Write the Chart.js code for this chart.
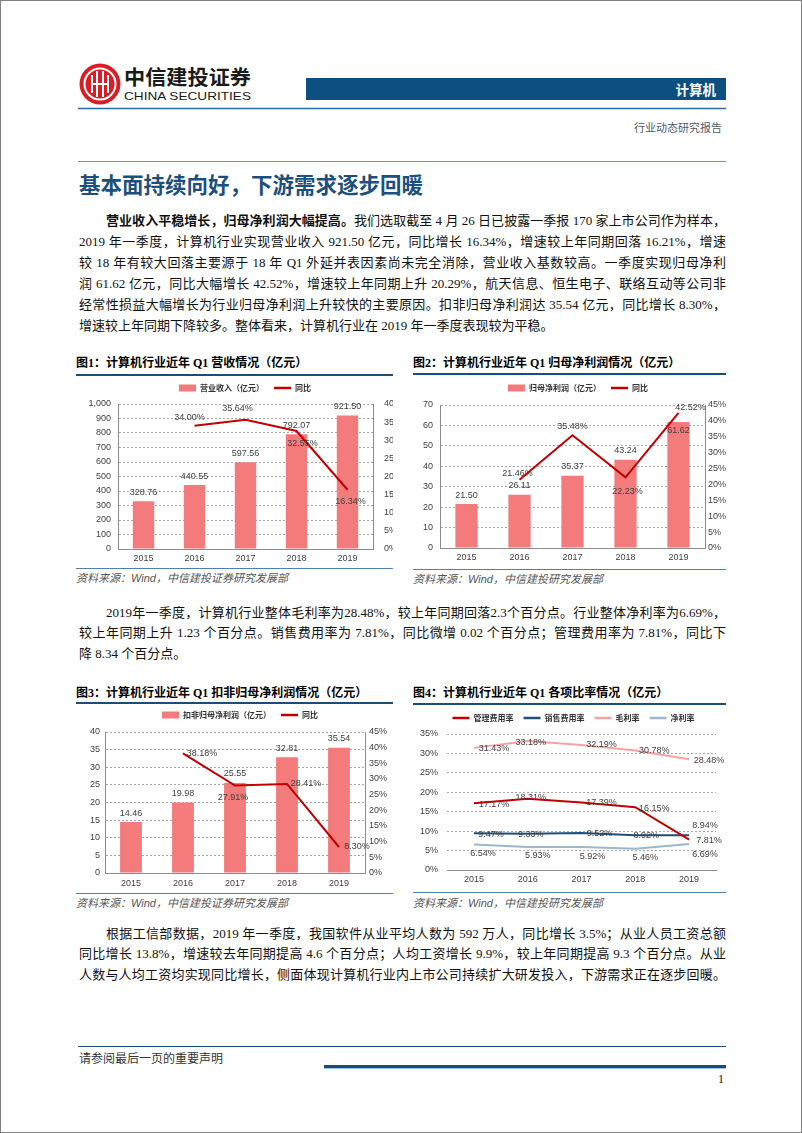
<!DOCTYPE html>
<html lang="zh-CN">
<head>
<meta charset="utf-8">
<title>计算机行业动态研究报告</title>
<script src="https://cdn.jsdelivr.net/npm/chart.js@4.4.1/dist/chart.umd.min.js"></script>
<style>
  html, body { margin: 0; padding: 0; background: #fff; overflow: hidden; }
  #page { position: relative; width: 802px; height: 1133px; box-sizing: border-box; border: 1px solid #808080;
          font-family: "Liberation Serif", "Noto Sans CJK SC", serif; color: #111; }
  .rule { position: absolute; height: 0; }
  .para { position: absolute; left: 78px; width: 647px; font-size: 13px; }
  .para div { text-align: justify; text-align-last: justify; }
  .para div.last { text-align-last: left; }
  .para .ind { padding-left: 27px; }
  .title { position: absolute; left: 78px; top: 171px; font: bold 21.5px/24px "Noto Sans CJK SC", sans-serif; color: #1c4f7c; }
  .figt { position: absolute; font: bold 12px/16px "Liberation Serif", "Noto Sans CJK SC", serif; color: #000; white-space: nowrap; }
  .src { position: absolute; font: italic 11px/14px "Liberation Sans", "Noto Sans CJK SC", sans-serif; color: #555; white-space: nowrap; }
  .clip { position: absolute; overflow: hidden; }
  .clip canvas { position: absolute; left: 0; top: 0; }
</style>
</head>
<body>
<div id="page">
  <svg width="802" height="170" style="position:absolute;left:0;top:0">
    <circle cx="99" cy="83" r="20.5" fill="#d81e25"/>
    <circle cx="99" cy="83" r="15.5" fill="none" stroke="#fff" stroke-width="2"/>
    <path d="M91 74 v18 M96 70 v26 M102 70 v26 M107 74 v18 M91 83 h16" stroke="#fff" stroke-width="2" fill="none"/>
    <text x="123" y="84" font-family="Noto Sans CJK SC" font-weight="bold" font-size="20" fill="#1a1a1a" textLength="127" lengthAdjust="spacingAndGlyphs">中信建投证券</text>
    <text x="123" y="98.5" font-family="Liberation Sans" font-size="11.5" fill="#1a1a1a" textLength="127" lengthAdjust="spacingAndGlyphs">CHINA SECURITIES</text>
    <rect x="305" y="77" width="420" height="22" fill="#0d4f81"/>
    <text x="715" y="93.5" text-anchor="end" font-family="Noto Sans CJK SC" font-weight="bold" font-size="13.5" fill="#fff">计算机</text>
    <line x1="77" y1="107.5" x2="725" y2="107.5" stroke="#2a6aa0" stroke-width="1.5"/>
    <text x="721" y="131" text-anchor="end" font-family="Noto Sans CJK SC" font-size="11" fill="#4d5b6a">行业动态研究报告</text>
    <line x1="77" y1="160.5" x2="725" y2="160.5" stroke="#6d93ba" stroke-width="1"/>
  </svg>

  <div class="title">基本面持续向好，下游需求逐步回暖</div>

  <div class="para" style="top:207.5px;line-height:21px">
    <div class="ind"><b style="font-family:'Noto Sans CJK SC'">营业收入平稳增长，归母净利润大幅提高。</b>我们选取截至 4 月 26 日已披露一季报 170 家上市公司作为样本，</div>
    <div>2019 年一季度，计算机行业实现营业收入 921.50 亿元，同比增长 16.34%，增速较上年同期回落 16.21%，增速</div>
    <div>较 18 年有较大回落主要源于 18 年 Q1 外延并表因素尚未完全消除，营业收入基数较高。一季度实现归母净利</div>
    <div>润 61.62 亿元，同比大幅增长 42.52%，增速较上年同期上升 20.29%，航天信息、恒生电子、联络互动等公司非</div>
    <div>经常性损益大幅增长为行业归母净利润上升较快的主要原因。扣非归母净利润达 35.54 亿元，同比增长 8.30%，</div>
    <div class="last">增速较上年同期下降较多。整体看来，计算机行业在 2019 年一季度表现较为平稳。</div>
  </div>

  <div class="figt" style="left:75px;top:354px">图1：计算机行业近年 Q1 营收情况（亿元）</div>
  <div class="rule" style="left:75px;top:373px;width:317px;border-top:2px solid #1b4d7a"></div>
  <div class="clip" style="left:75px;top:378px;width:317px;height:187px"><canvas id="c1" width="345" height="187"></canvas></div>
  <div class="rule" style="left:75px;top:567px;width:317px;border-top:1px solid #4f7fae"></div>
  <div class="src" style="left:75px;top:570px">资料来源：Wind，中信建投证券研究发展部</div>

  <div class="figt" style="left:412px;top:354px">图2：计算机行业近年 Q1 归母净利润情况（亿元）</div>
  <div class="rule" style="left:412px;top:372px;width:313px;border-top:2px solid #1b4d7a"></div>
  <div class="clip" style="left:412px;top:378px;width:313px;height:187px"><canvas id="c2" width="330" height="187"></canvas></div>
  <div class="rule" style="left:412px;top:568px;width:313px;border-top:1px solid #4f7fae"></div>
  <div class="src" style="left:412px;top:571px">资料来源：Wind，中信建投研究发展部</div>

  <div class="para" style="top:601.75px;line-height:20.5px">
    <div class="ind">2019年一季度，计算机行业整体毛利率为28.48%，较上年同期回落2.3个百分点。行业整体净利率为6.69%，</div>
    <div>较上年同期上升 1.23 个百分点。销售费用率为 7.81%，同比微增 0.02 个百分点；管理费用率为 7.81%，同比下</div>
    <div class="last">降 8.34 个百分点。</div>
  </div>

  <div class="figt" style="left:75px;top:684px">图3：计算机行业近年 Q1 扣非归母净利润情况（亿元）</div>
  <div class="rule" style="left:75px;top:701px;width:317px;border-top:2px solid #1b4d7a"></div>
  <div class="clip" style="left:75px;top:705px;width:317px;height:185px"><canvas id="c3" width="335" height="185"></canvas></div>
  <div class="rule" style="left:75px;top:892px;width:317px;border-top:1px solid #4f7fae"></div>
  <div class="src" style="left:75px;top:895px">资料来源：Wind，中信建投证券研究发展部</div>

  <div class="figt" style="left:412px;top:684px">图4：计算机行业近年 Q1 各项比率情况（亿元）</div>
  <div class="rule" style="left:412px;top:702px;width:313px;border-top:2px solid #1b4d7a"></div>
  <div class="clip" style="left:412px;top:705px;width:313px;height:185px"><canvas id="c4" width="313" height="185"></canvas></div>
  <div class="rule" style="left:412px;top:891px;width:313px;border-top:1px solid #4f7fae"></div>
  <div class="src" style="left:412px;top:895px">资料来源：Wind，中信建投研究发展部</div>

  <div class="para" style="top:922.75px;line-height:20.5px">
    <div class="ind">根据工信部数据，2019 年一季度，我国软件从业平均人数为 592 万人，同比增长 3.5%；从业人员工资总额</div>
    <div>同比增长 13.8%，增速较去年同期提高 4.6 个百分点；人均工资增长 9.9%，较上年同期提高 9.3 个百分点。从业</div>
    <div>人数与人均工资均实现同比增长，侧面体现计算机行业内上市公司持续扩大研发投入，下游需求正在逐步回暖。</div>
  </div>

  <div class="rule" style="left:77px;top:1045px;width:648px;border-top:1px solid #1f4e79"></div>
  <div style="position:absolute;left:78px;top:1049px;font:12px/16px 'Noto Sans CJK SC',sans-serif;color:#333">请参阅最后一页的重要声明</div>
  <div class="rule" style="left:323px;top:1064px;width:402px;border-top:3px solid #1a4a78;border-bottom:1px solid #9cc3e6"></div>
  <div style="position:absolute;left:700px;top:1070px;width:23px;text-align:right;font:12px/16px 'Liberation Serif',serif;color:#111">1</div>
</div>

<script>
const years = ['2015', '2016', '2017', '2018', '2019'];

// 图1 营业收入（亿元）与同比
const revenue = [328.76, 440.55, 597.56, 792.07, 921.50];
const revenueYoy = [null, 34.00, 35.64, 32.55, 16.34];

// 图2 归母净利润（亿元）与同比
const netProfit = [21.50, 26.11, 35.37, 43.24, 61.62];
const netProfitYoy = [null, 21.46, 35.48, 22.23, 42.52];

// 图3 扣非归母净利润（亿元）与同比
const deductedProfit = [14.46, 19.98, 25.55, 32.81, 35.54];
const deductedYoy = [null, 38.18, 27.91, 28.41, 8.30];

// 图4 各项比率（%）
const adminRate = [17.17, 18.31, 17.39, 16.15, 7.81];
const salesRate = [9.47, 9.33, 9.52, 8.92, 8.94];
const grossMargin = [31.43, 33.18, 32.19, 30.78, 28.48];
const netMargin = [6.54, 5.93, 5.92, 5.46, 6.69];

const axisFont = { family: '"Liberation Sans", Arial, sans-serif', size: 9 };
const tickColor = '#404040';
const gridColor = '#a6a6a6';
const axisColor = '#8c8c8c';
const barColor = '#f37b7b';
const yoyColor = '#c00000';

// 标签相对数据点的偏移
const OFFSETS = { top: [0, -9], bottom: [0, 12], right: [19, 0], center: [0, 0], inside: [0, 8] };

function valueLabels(places, suffixes) {
  return {
    id: 'valueLabels',
    afterDatasetsDraw(chart) {
      const ctx = chart.ctx;
      ctx.save();
      ctx.font = '9px "Liberation Sans", Arial, sans-serif';
      ctx.fillStyle = '#404040';
      ctx.textAlign = 'center';
      ctx.textBaseline = 'middle';
      chart.data.datasets.forEach((ds, i) => {
        chart.getDatasetMeta(i).data.forEach((el, j) => {
          const v = ds.data[j];
          if (v === null || !places[i]) return;
          const p = places[i][j];
          const [dx, dy] = Array.isArray(p) ? p : OFFSETS[p];
          ctx.fillText(v.toFixed(2) + suffixes[i], el.x + dx, el.y + dy);
        });
      });
      ctx.restore();
    }
  };
}

// 图例下方留白、水平微调
function legendTweak(extra, dx) {
  return {
    id: 'legendTweak',
    beforeLayout(chart) {
      const lg = chart.legend;
      if (!lg || lg._tweaked) return;
      const fit = lg.fit;
      lg.fit = function () { fit.call(this); this.height += extra; };
      lg._tweaked = true;
    },
    afterLayout(chart) {
      if (dx && chart.legend) { chart.legend.left += dx; chart.legend.right += dx; }
    }
  };
}

function legendOptions() {
  return {
    position: 'top',
    labels: {
      usePointStyle: true,
      pointStyleWidth: 17,
      boxHeight: 7,
      padding: 10,
      color: '#333',
      font: { family: '"Noto Sans CJK SC", sans-serif', size: 8, weight: 'bold' },
      sort: (a, b) => a.datasetIndex - b.datasetIndex,
      generateLabels(chart) {
        const items = Chart.defaults.plugins.legend.labels.generateLabels(chart);
        items.forEach(it => {
          const ds = chart.data.datasets[it.datasetIndex];
          const isBar = (ds.type || chart.config.type) === 'bar';
          it.pointStyle = isBar ? 'rect' : 'line';
          if (!isBar) { it.strokeStyle = ds.borderColor; it.lineWidth = 2.5; }
        });
        return items;
      }
    }
  };
}

function comboChart(id, names, bars, yoy, axes, box, places) {
  return new Chart(document.getElementById(id), {
    type: 'bar',
    data: {
      labels: years,
      datasets: [
        { label: names[0], data: bars, backgroundColor: barColor, borderWidth: 0, order: 1, yAxisID: 'y',
          barPercentage: 0.42, categoryPercentage: 1 },
        { type: 'line', label: names[1], data: yoy, borderColor: yoyColor, backgroundColor: yoyColor,
          borderWidth: 2, pointRadius: 0, tension: 0, order: 0, yAxisID: 'y1' }
      ]
    },
    options: {
      responsive: false,
      animation: false,
      events: [],
      layout: { padding: box.pad },
      plugins: { legend: legendOptions(), tooltip: { enabled: false } },
      scales: {
        x: {
          grid: { display: false, drawTicks: false },
          border: { display: true, color: axisColor },
          ticks: { font: axisFont, color: tickColor, padding: box.xPad },
          afterFit: s => { s.height = box.xH; }
        },
        y: {
          position: 'left', min: 0, max: axes.leftMax,
          grid: { color: gridColor, drawTicks: false },
          border: { display: true, color: axisColor, dash: [2, 2] },
          ticks: { stepSize: axes.leftStep, font: axisFont, color: tickColor, padding: box.yPad,
                   callback: v => v.toLocaleString('en-US') },
          afterFit: s => { s.width = box.yW; }
        },
        y1: {
          position: 'right', min: 0, max: axes.rightMax,
          grid: { display: false, drawTicks: false },
          border: { display: true, color: axisColor },
          ticks: { stepSize: 5, font: axisFont, color: tickColor, padding: box.y1Pad, callback: v => v + '%' },
          afterFit: s => { s.width = box.y1W; }
        }
      }
    },
    plugins: [valueLabels(places, ['', '%']), legendTweak(box.gap, 0)]
  });
}

comboChart('c1', ['营业收入（亿元）', '同比'], revenue, revenueYoy,
  { leftMax: 1000, leftStep: 100, rightMax: 40 },
  { pad: { top: -5, left: 0, right: 7, bottom: 0 }, gap: 2, yW: 42, y1W: 41, xH: 17, xPad: 4, yPad: 7, y1Pad: 11 },
  [['top', 'top', 'top', 'top', 'top'], [null, [-5, -8], [-8, -11], [6, 13], [3, 12]]]);

comboChart('c2', ['归母净利润（亿元）', '同比'], netProfit, netProfitYoy,
  { leftMax: 70, leftStep: 10, rightMax: 45 },
  { pad: { top: -5, left: 0, right: 0, bottom: 0 }, gap: 3, yW: 27, y1W: 38, xH: 18, xPad: 4, yPad: 7, y1Pad: 3 },
  [['top', 'top', 'top', 'top', 'inside'], [null, [-2, -6], [0, -9], [2, 14], [12, -5]]]);

comboChart('c3', ['扣非归母净利润（亿元）', '同比'], deductedProfit, deductedYoy,
  { leftMax: 40, leftStep: 5, rightMax: 45 },
  { pad: { top: -5, left: 0, right: 7, bottom: 0 }, gap: 3, yW: 29, y1W: 39, xH: 18, xPad: 5, yPad: 5, y1Pad: 4 },
  [['top', 'top', 'top', 'top', 'top'], [null, 'right', [-2, 12], 'right', [18, 0]]]);

// 图4 各项比率
const rateLine = (label, data, color) => ({
  label, data, borderColor: color, backgroundColor: color, borderWidth: 2, pointRadius: 0, tension: 0
});

new Chart(document.getElementById('c4'), {
  type: 'line',
  data: {
    labels: years,
    datasets: [
      rateLine('管理费用率', adminRate, '#c00000'),
      rateLine('销售费用率', salesRate, '#1f4e79'),
      rateLine('毛利率', grossMargin, '#f4a3a3'),
      rateLine('净利率', netMargin, '#9bb7cc')
    ]
  },
  options: {
    responsive: false,
    animation: false,
    events: [],
    layout: { padding: { top: -2, left: 0, right: 10, bottom: 0 } },
    plugins: { legend: legendOptions(), tooltip: { enabled: false } },
    scales: {
      x: {
        offset: true,
        grid: { display: false, drawTicks: false },
        border: { display: true, color: axisColor },
        ticks: { font: axisFont, color: tickColor, padding: 4 },
        afterFit: s => { s.height = 21; }
      },
      y: {
        min: 0, max: 35,
        grid: { color: gridColor, drawTicks: false },
        border: { display: false, dash: [2, 2] },
        ticks: { stepSize: 5, font: axisFont, color: tickColor, padding: 9, callback: v => v + '%' },
        afterFit: s => { s.width = 34; }
      }
    }
  },
  plugins: [
    valueLabels([
      [[20, 1], [3, -1], [20, 0], [19, 1], [20, 1]],
      [[17, 1], [3, 1], [18, 1], [11, 0], [16, -10]],
      [[20, 1], [3, 1], [20, 0], [19, 0], [20, 1]],
      [[9, 9], [10, 9], [11, 10], [10, 9], [16, 11]]
    ], ['%', '%', '%', '%']),
    legendTweak(2, 9)
  ]
});
</script>
</body>
</html>
